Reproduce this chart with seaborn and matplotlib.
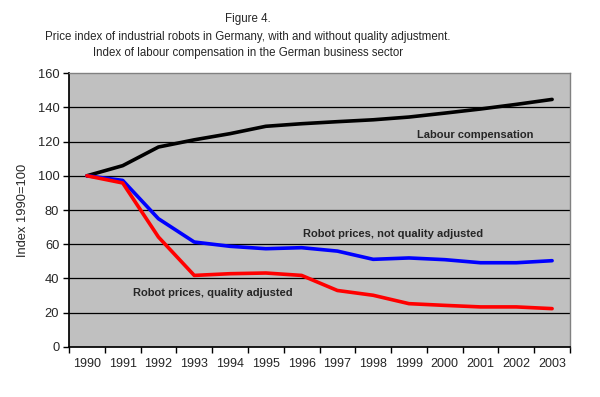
import matplotlib
matplotlib.use("Agg")
import matplotlib.pyplot as plt
import numpy as np
import pandas as pd
import seaborn as sns

years = [str(y) for y in range(1990, 2004)]
labour = [100, 105.9, 116.8, 121.0, 124.6, 128.9, 130.4, 131.6, 132.7, 134.3, 136.6, 139.0, 141.7, 144.6]
not_adjusted = [100, 97.3, 74.9, 61.3, 58.8, 57.4, 58.0, 56.0, 51.2, 52.0, 51.0, 49.2, 49.2, 50.4]
adjusted = [100, 95.8, 64.2, 41.8, 42.8, 43.2, 41.8, 33.0, 30.2, 25.3, 24.3, 23.4, 23.4, 22.4]

series_names = ["Labour compensation", "Robot prices, not quality adjusted",
                "Robot prices, quality adjusted"]
colors = ["#000000", "#0000FF", "#FF0000"]

df = pd.DataFrame({
    "pos": list(range(len(years))) * 3,
    "value": labour + not_adjusted + adjusted,
    "series": np.repeat(series_names, len(years)),
})

sns.set_theme(style="white")
plt.rcParams["font.family"] = ["Liberation Sans", "DejaVu Sans"]

fig = plt.figure(figsize=(6.0, 3.97), dpi=100)
ax = fig.add_axes([0.115, 0.126, 0.835, 0.690])
ax.set_facecolor("#C0C0C0")

sns.lineplot(data=df, x="pos", y="value", hue="series", palette=colors,
             hue_order=series_names, linewidth=2.6, legend=False, ax=ax)

ax.set_xlim(-0.5, len(years) - 0.5)
ax.set_ylim(0, 160)
ax.set_yticks(range(0, 161, 20))
for yv in range(20, 160, 20):
    ax.axhline(yv, color="black", linewidth=0.9, zorder=0.5)

# tick marks on category boundaries, labels centred on the points
ax.set_xticks(np.arange(-0.5, len(years), 1.0))
ax.set_xticklabels([])
ax.set_xticks(range(len(years)), minor=True)
ax.set_xticklabels(years, minor=True, fontsize=9)
ax.tick_params(axis="x", which="major", length=4, width=1, color="black", direction="out", bottom=True)
ax.tick_params(axis="x", which="minor", length=0, pad=8)
ax.tick_params(axis="y", length=4, width=1, color="black", direction="out", left=True, labelsize=9.3, pad=3)

for side in ["top", "right"]:
    ax.spines[side].set_color("#808080")
    ax.spines[side].set_linewidth(1)
ax.spines["left"].set_color("black")
ax.spines["bottom"].set_color("black")

ax.set_xlabel("")
ax.set_ylabel("Index 1990=100", fontsize=9.3, labelpad=6)

ax.text(9.22, 123.8, series_names[0], fontsize=8, fontweight="bold", va="center", ha="left")
ax.text(6.04, 66, series_names[1], fontsize=8, fontweight="bold", va="center", ha="left")
ax.text(1.29, 31.5, series_names[2], fontsize=8, fontweight="bold", va="center", ha="left")

title_lines = [
    "Figure 4.",
    "Price index of industrial robots in Germany, with and without quality adjustment.",
    "Index of labour compensation in the German business sector",
]
for py, line in zip([19, 37, 53], title_lines):
    fig.text(248 / 600, 1 - py / 397, line, ha="center", va="center", fontsize=8.3)

fig.savefig("out.png", dpi=100, facecolor="white")
